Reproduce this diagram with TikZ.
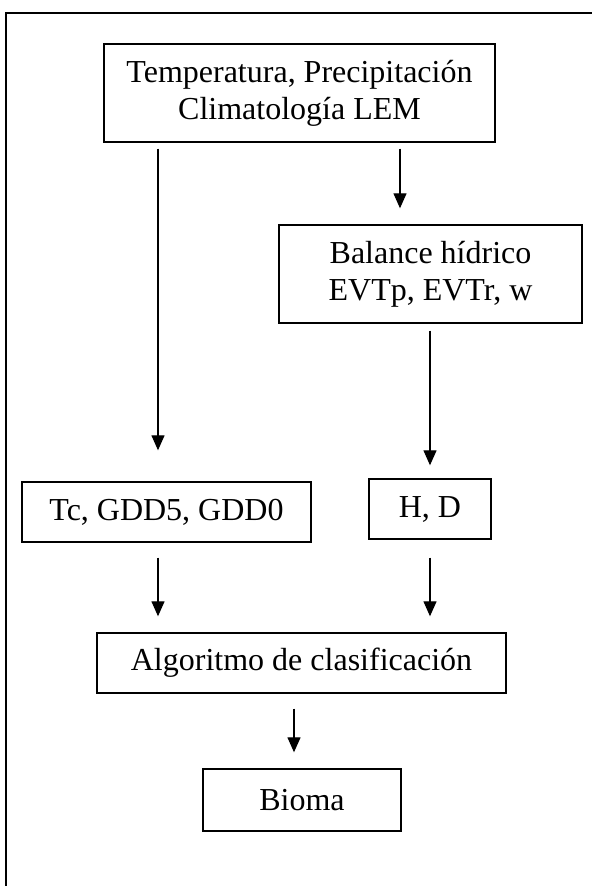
\documentclass[tikz,border=0pt]{standalone}
\usepackage{fontspec}
\setmainfont{Liberation Serif}
\usetikzlibrary{arrows.meta}
\begin{document}
\begin{tikzpicture}[x=1pt,y=-1pt,
  box/.style={draw,line width=1.4pt,rectangle,inner sep=0pt,align=center,
    font=\fontsize{32}{37}\selectfont},
  arr/.style={line width=1.3pt,-{Triangle[length=15pt,width=13pt]}}]
\useasboundingbox (0,0) rectangle (592,886);
% open frame: top and left edges only
\draw[line width=1.5pt] (6,886) -- (6,13) -- (592,13);

\node[box,minimum width=391pt,minimum height=98pt] (clim) at (299.5,93)
  {Temperatura, Precipitación\\Climatología LEM};
\node[box,minimum width=303pt,minimum height=98pt] (bal) at (430.5,274)
  {Balance hídrico\\EVTp, EVTr, w};
\node[box,minimum width=289pt,minimum height=60pt] (tc) at (166.5,512)
  {Tc, GDD5, GDD0};
\node[box,minimum width=122pt,minimum height=60pt] (hd) at (430,509)
  {H, D};
\node[box,minimum width=409pt,minimum height=60pt] (alg) at (301.5,663)
  {Algoritmo de clasificación};
\node[box,minimum width=198pt,minimum height=62pt] (bio) at (302,800)
  {Bioma};

% arrow columns
\coordinate (xl) at (158,0);
\coordinate (xm) at (400,0);
\coordinate (xr) at (430,0);
\coordinate (xc) at (294,0);

\draw[arr,shorten <=6pt,shorten >=31pt] (clim.south -| xl) -- (tc.north -| xl);
\draw[arr,shorten <=6pt,shorten >=16pt] (clim.south -| xm) -- (bal.north -| xm);
\draw[arr,shorten <=7pt,shorten >=13pt] (bal.south -| xr) -- (hd.north -| xr);
\draw[arr,shorten <=15pt,shorten >=16pt] (tc.south -| xl) -- (alg.north -| xl);
\draw[arr,shorten <=18pt,shorten >=16pt] (hd.south -| xr) -- (alg.north -| xr);
\draw[arr,shorten <=15pt,shorten >=16pt] (alg.south -| xc) -- (bio.north -| xc);
\end{tikzpicture}
\end{document}
